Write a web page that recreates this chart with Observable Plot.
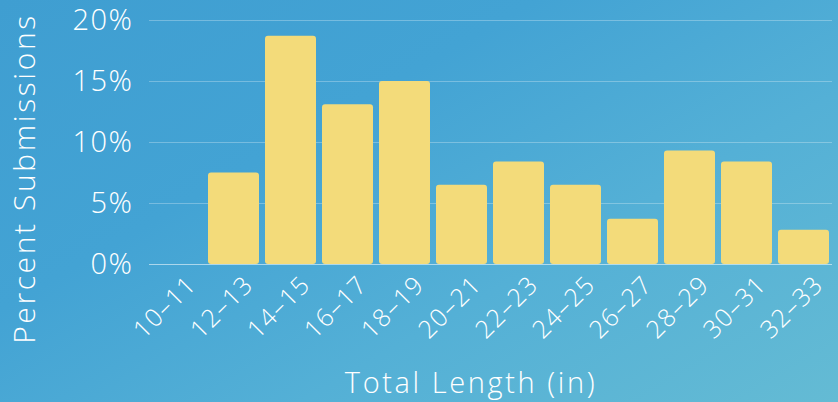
<!DOCTYPE html>
<html><head>
<meta charset="utf-8">
<script src="https://cdn.jsdelivr.net/npm/d3@7"></script>
<script src="https://cdn.jsdelivr.net/npm/@observablehq/plot@0.6"></script>
<style>
html,body{margin:0;padding:0;}
body{width:838px;height:402px;overflow:hidden;
background:linear-gradient(150deg,#3f9ed1 0%,#43a3d4 35%,#54b0d6 65%,#64bbd4 100%);}
#chart svg{display:block;}
#chart svg text{font-weight:300;}
#chart g[aria-label="text"] text{letter-spacing:2.6px;}
#chart g[aria-label="y-axis tick label"] text{letter-spacing:1.5px;}
#chart g[aria-label="x-axis tick label"] text{letter-spacing:1.3px;}
</style>
</head><body><div id="chart"></div>
<script>
const lengthBins = ["10–11","12–13","14–15","16–17","18–19","20–21","22–23","24–25","26–27","28–29","30–31","32–33"];
const percentValues = [0, 7.5, 18.7, 13.1, 15.0, 6.5, 8.4, 6.5, 3.7, 9.3, 8.4, 2.8];
const yTicks = [0, 5, 10, 15, 20];
const xTitle = "Total Length (in)";
const yTitle = "Percent Submissions";

const data = lengthBins.map((b, i) => ({bin: b, pct: percentValues[i]}));

const chart = Plot.plot({
  width: 838, height: 402,
  marginLeft: 149, marginRight: 6, marginTop: 20, marginBottom: 138,
  style: {background: "transparent", color: "white", fontFamily: "'Open Sans', Lato, sans-serif", fontSize: "22px", overflow: "visible"},
  x: {domain: lengthBins, paddingInner: 0.1, paddingOuter: 0, label: null},
  y: {domain: [0, 20], label: null},
  marks: [
    Plot.gridY(yTicks.slice(1), {stroke: "white", strokeOpacity: 0.28, strokeWidth: 1}),
    Plot.barY(data, {x: "bin", y: "pct", fill: "#f3db7a", rx: 3}),
    Plot.ruleY([0], {stroke: "white", strokeOpacity: 0.55}),
    Plot.axisY(yTicks, {tickSize: 0, tickPadding: 16, tickFormat: d => d + "%", fontSize: 29, label: null}),
    Plot.axisX({tickSize: 0, tickRotate: -45, tickPadding: 16, dx: 15, fontSize: 25, label: null}),
    Plot.text([xTitle], {frameAnchor: "bottom", dx: -20, dy: 128, fontSize: 29, lineAnchor: "bottom"}),
    Plot.text([yTitle], {frameAnchor: "left", dx: -124, dy: 36, rotate: -90, fontSize: 30, textAnchor: "middle"})
  ]
});
document.getElementById("chart").appendChild(chart);
</script>
</body></html>
